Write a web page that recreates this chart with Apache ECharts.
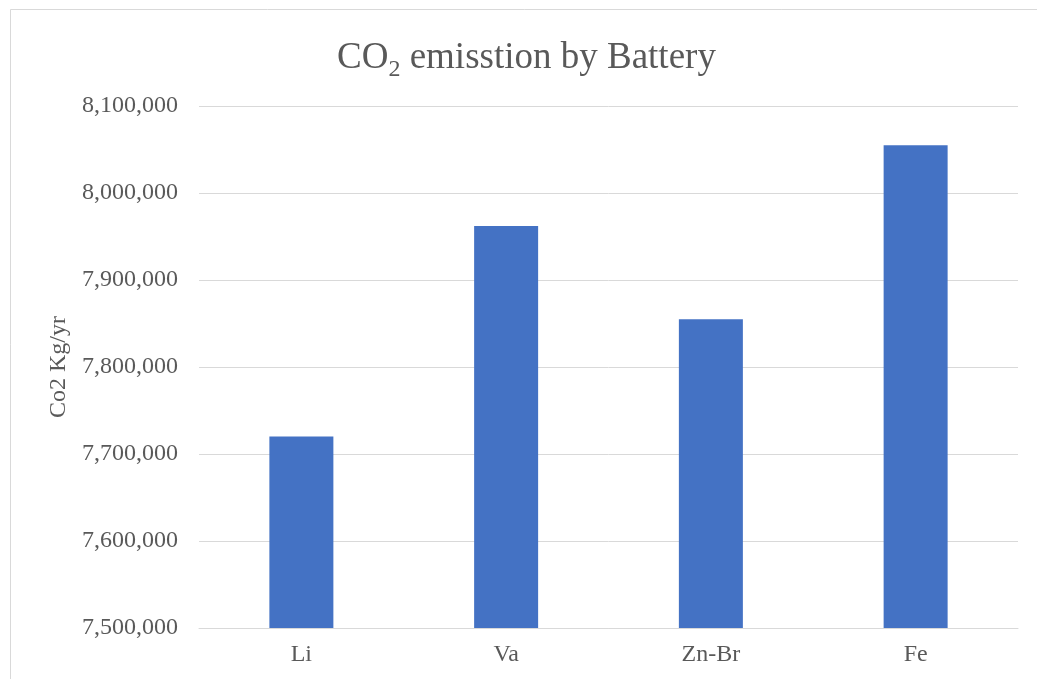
<!DOCTYPE html>
<html>
<head>
<meta charset="utf-8">
<script src="https://cdn.jsdelivr.net/npm/echarts@6/dist/echarts.min.js"></script>
<style>
  html, body { margin: 0; padding: 0; background: #fff; }
  #chart { width: 1037px; height: 679px; }
</style>
</head>
<body>
<div id="chart"></div>
<script>
// Battery types and their yearly CO2 output (kg/yr)
const categories = ['Li', 'Va', 'Zn-Br', 'Fe'];
const emissions = [7720000, 7962000, 7855000, 8055000];

// Value axis range
const yMin = 7500000;
const yMax = 8100000;
const yStep = 100000;

const FONT = '"Liberation Serif", "Times New Roman", serif';
const TEXT = '#595959';
const LINE = '#D9D9D9';

const chart = echarts.init(document.getElementById('chart'), null, { renderer: 'canvas' });

chart.setOption({
  backgroundColor: '#ffffff',
  animation: false,
  title: {
    text: '{a|CO}{b|2}{a| emisstion by Battery}',
    left: 337,
    top: 36,
    padding: 0,
    textStyle: {
      fontWeight: 'normal',
      rich: {
        a: { fontFamily: FONT, fontSize: 37, fontWeight: 'normal', color: TEXT, lineHeight: 44 },
        b: { fontFamily: FONT, fontSize: 24, fontWeight: 'normal', color: TEXT, lineHeight: 18, padding: [24, 0, 0, 0] }
      }
    }
  },
  graphic: [{
    type: 'rect',
    silent: true,
    shape: { x: 10.5, y: 9.5, width: 1200, height: 900 },
    style: { fill: 'none', stroke: LINE, lineWidth: 1 }
  }],
  grid: { left: 199, right: 19, top: 106, bottom: 51, containLabel: false },
  xAxis: {
    type: 'category',
    data: categories,
    axisLine: { show: true, lineStyle: { color: LINE, width: 1 } },
    axisTick: { show: false },
    axisLabel: { color: TEXT, fontFamily: FONT, fontSize: 24, margin: 15 }
  },
  yAxis: {
    type: 'value',
    min: yMin,
    max: yMax,
    interval: yStep,
    name: 'Co2 Kg/yr',
    nameLocation: 'middle',
    nameGap: 115,
    nameTextStyle: { color: TEXT, fontFamily: FONT, fontSize: 24 },
    axisLine: { show: false },
    axisTick: { show: false },
    splitLine: { lineStyle: { color: LINE, width: 1 } },
    axisLabel: {
      color: TEXT, fontFamily: FONT, fontSize: 24, margin: 21,
      formatter: v => v.toLocaleString('en-US')
    }
  },
  series: [{
    type: 'bar',
    data: emissions,
    barWidth: 64,
    itemStyle: { color: '#4472C4' }
  }]
});
</script>
</body>
</html>
